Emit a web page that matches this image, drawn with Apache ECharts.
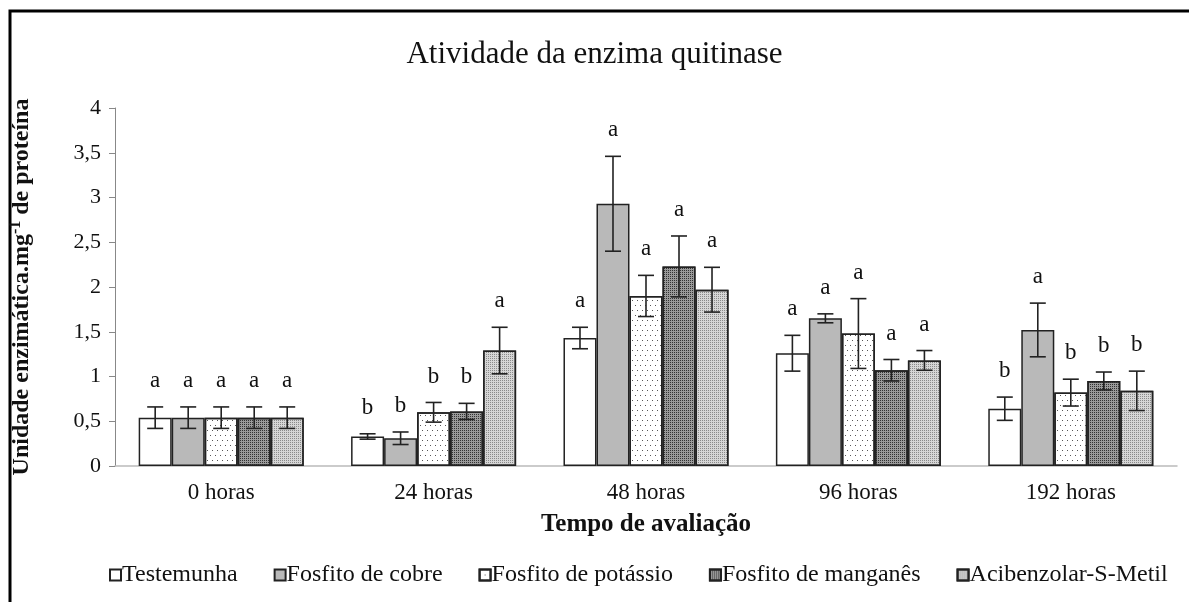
<!DOCTYPE html>
<html>
<head>
<meta charset="utf-8">
<title>Atividade da enzima quitinase</title>
<script src="https://cdn.jsdelivr.net/npm/echarts@6/dist/echarts.min.js"></script>
<style>
  html, body { margin: 0; padding: 0; background: #fff; }
  #main { width: 1189px; height: 602px; }
</style>
</head>
<body>
<div id="main"></div>
<script>
// tempos de avaliação
const categories = ["0 horas", "24 horas", "48 horas", "96 horas", "192 horas"];
const seriesNames = ["Testemunha", "Fosfito de cobre", "Fosfito de potássio", "Fosfito de manganês", "Acibenzolar-S-Metil"];

// médias
const testemunha = [0.54, 0.33, 1.43, 1.26, 0.64];
const cobre = [0.54, 0.31, 2.93, 1.65, 1.52];
const potassio = [0.54, 0.60, 1.90, 1.48, 0.82];
const manganes = [0.54, 0.61, 2.23, 1.07, 0.95];
const acibenzolar = [0.54, 1.29, 1.97, 1.18, 0.84];

// desvios (barras de erro)
const errTestemunha = [0.12, 0.03, 0.12, 0.20, 0.13];
const errCobre = [0.12, 0.07, 0.53, 0.05, 0.30];
const errPotassio = [0.12, 0.11, 0.23, 0.39, 0.15];
const errManganes = [0.12, 0.09, 0.34, 0.12, 0.10];
const errAcibenzolar = [0.12, 0.26, 0.25, 0.11, 0.22];

// letras de significância
const letTestemunha = ["a", "b", "a", "a", "b"];
const letCobre = ["a", "b", "a", "a", "a"];
const letPotassio = ["a", "b", "a", "a", "b"];
const letManganes = ["a", "b", "a", "a", "b"];
const letAcibenzolar = ["a", "a", "a", "a", "b"];

const yTicks = [0, 0.5, 1, 1.5, 2, 2.5, 3, 3.5, 4];

const values = [testemunha, cobre, potassio, manganes, acibenzolar];
const errors = [errTestemunha, errCobre, errPotassio, errManganes, errAcibenzolar];
const letters = [letTestemunha, letCobre, letPotassio, letManganes, letAcibenzolar];

const FONT = "Liberation Serif";
const CAT_GAP = 0.223; // barCategoryGap

// estilos das barras (preenchimento + textura)
const barStyles = [
  { color: "#ffffff" },
  { color: "#b9b9b9" },
  { color: "#ffffff", decal: { symbol: "rect", symbolSize: 1, color: "#555", dashArrayX: [[1, 4], [0, 2, 1, 2]], dashArrayY: [1, 4] } },
  { color: "#9a9a9a", decal: { symbol: "rect", symbolSize: 1, color: "#333", dashArrayX: [1, 1], dashArrayY: [1, 1] } },
  { color: "#d6d6d6", decal: { symbol: "rect", symbolSize: 1, color: "#8a8a8a", dashArrayX: [1, 1], dashArrayY: [1, 1] } }
];

const barSeries = seriesNames.map((name, i) => ({
  name: name,
  type: "bar",
  data: values[i],
  barGap: "0%",
  barCategoryGap: (CAT_GAP * 100) + "%",
  itemStyle: Object.assign({ borderColor: "#222", borderWidth: 1.5 }, barStyles[i]),
  emphasis: { disabled: true }
}));

// dados das barras de erro: [categoria, série, mínimo, máximo, letra]
const errData = [];
values.forEach((arr, s) => {
  arr.forEach((v, c) => {
    errData.push([c, s, v - errors[s][c], v + errors[s][c], letters[s][c]]);
  });
});

function renderError(params, api) {
  const c = api.value(0);
  const s = api.value(1);
  const band = api.size([1, 0])[0];
  const barW = band * (1 - CAT_GAP) / seriesNames.length;
  const center = api.coord([c, 0])[0];
  const x = center - band * (1 - CAT_GAP) / 2 + barW * (s + 0.5);
  const yLow = api.coord([c, api.value(2)])[1];
  const yHigh = api.coord([c, api.value(3)])[1];
  const cap = 8;
  const st = { stroke: "#222", lineWidth: 1.6 };
  return {
    type: "group",
    children: [
      { type: "line", shape: { x1: x, y1: yLow, x2: x, y2: yHigh }, style: st },
      { type: "line", shape: { x1: x - cap, y1: yHigh, x2: x + cap, y2: yHigh }, style: st },
      { type: "line", shape: { x1: x - cap, y1: yLow, x2: x + cap, y2: yLow }, style: st },
      {
        type: "text",
        x: x,
        y: yHigh - 26,
        style: {
          text: errData[params.dataIndex][4],
          fontFamily: FONT,
          fontSize: 23,
          fill: "#111",
          textAlign: "center",
          textVerticalAlign: "middle"
        }
      }
    ]
  };
}

var myChart = echarts.init(document.getElementById("main"));
var option = {
  backgroundColor: "#fff",
  animation: false,
  textStyle: { fontFamily: FONT, color: "#111" },
  title: {
    text: "Atividade da enzima quitinase",
    left: "center",
    top: 34,
    textStyle: { fontFamily: FONT, fontSize: 31, fontWeight: "normal", color: "#111" }
  },
  graphic: [
    {
      type: "rect",
      shape: { x: 10, y: 11, width: 1220, height: 640 },
      style: { fill: "none", stroke: "#000", lineWidth: 3 },
      silent: true
    }
  ],
  legend: {
    data: seriesNames,
    bottom: 10,
    left: 104,
    icon: "rect",
    itemWidth: 11,
    itemHeight: 11,
    itemGap: 36,
    selectedMode: false,
    textStyle: { fontFamily: FONT, fontSize: 24, color: "#111", padding: [0, 0, 0, -4] }
  },
  grid: { left: 115, right: 12, top: 108, bottom: 136 },
  xAxis: {
    type: "category",
    data: categories,
    name: "Tempo de avaliação",
    nameLocation: "middle",
    nameGap: 46,
    nameTextStyle: { fontFamily: FONT, fontSize: 25, fontWeight: "bold", color: "#111" },
    axisLine: { lineStyle: { color: "#bbb", width: 1.5 } },
    axisTick: { show: false },
    axisLabel: { fontFamily: FONT, fontSize: 23, color: "#111", margin: 15 }
  },
  yAxis: {
    type: "value",
    min: yTicks[0],
    max: yTicks[yTicks.length - 1],
    interval: 0.5,
    name: "Unidade enzimática.mg{sup|-1} de proteína",
    nameLocation: "middle",
    nameRotate: 90,
    nameGap: 80,
    nameTextStyle: {
      fontFamily: FONT, fontSize: 24, fontWeight: "bold", color: "#111",
      rich: { sup: { fontFamily: FONT, fontSize: 16, fontWeight: "bold", color: "#111", padding: [0, 0, 11, 0] } }
    },
    axisLine: { show: true, lineStyle: { color: "#888", width: 1 } },
    axisTick: { show: true, length: 6, lineStyle: { color: "#888" } },
    splitLine: { show: false },
    axisLabel: {
      fontFamily: FONT, fontSize: 22, color: "#111", margin: 14,
      formatter: v => String(v).replace(".", ",")
    }
  },
  series: barSeries.concat([
    {
      type: "custom",
      name: "erro",
      renderItem: renderError,
      data: errData,
      z: 10,
      silent: true,
      encode: { x: 0, y: [2, 3] }
    }
  ])
};

option && myChart.setOption(option);
window.addEventListener("resize", function () {
  myChart.resize();
});
</script>
</body>
</html>
